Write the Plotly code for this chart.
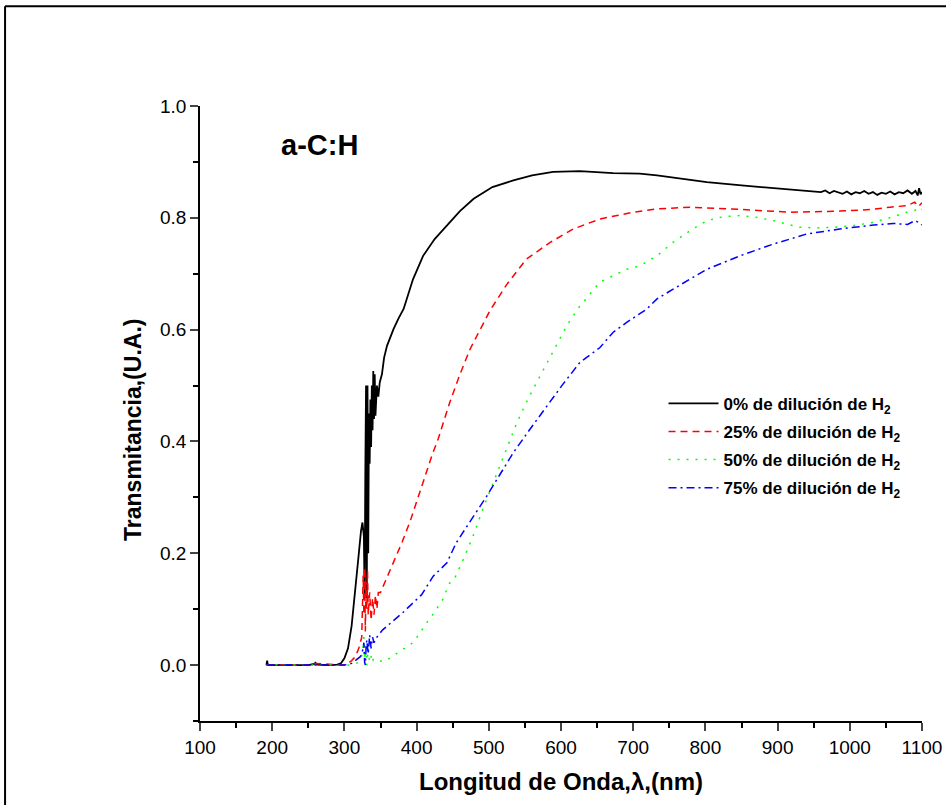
import plotly.graph_objects as go

# ---------------- data ----------------
wl_0 = [192, 193, 194, 200, 230, 250, 258, 260, 262, 280, 290, 295, 300, 305, 310, 315, 320, 323, 325,
        327, 328, 329, 330, 331, 332, 333, 334, 335, 336, 337, 338, 339, 340, 341, 342, 343, 345, 347,
        349, 352, 355, 359, 363, 368, 375, 382, 395, 409, 425, 442, 460, 479, 505, 534, 560, 589, 626,
        672, 709, 733, 770, 802, 850, 894, 920, 950, 960, 966, 972, 978, 984, 990, 996, 1002, 1008, 1014,
        1020, 1026, 1032, 1038, 1044, 1050, 1056, 1062, 1068, 1074, 1080, 1086, 1091, 1094, 1096, 1098, 1100]
T_0 = [0.0, 0.008, 0.0, 0.0, 0.0, 0.0, 0.002, 0.004, 0.001, 0.0, 0.001, 0.003, 0.012, 0.03, 0.07, 0.13,
       0.2, 0.24, 0.255, 0.23, 0.12, 0.35, 0.5, 0.12, 0.5, 0.2, 0.45, 0.36, 0.475, 0.39, 0.5, 0.42, 0.526,
       0.44, 0.52, 0.446, 0.5, 0.48, 0.506, 0.52, 0.55, 0.571, 0.585, 0.601, 0.62, 0.637, 0.69, 0.732,
       0.762, 0.786, 0.812, 0.834, 0.855, 0.867, 0.876, 0.882, 0.8835, 0.88, 0.879, 0.876, 0.869, 0.864,
       0.858, 0.853, 0.850, 0.847, 0.846, 0.849, 0.844, 0.848, 0.845, 0.843, 0.847, 0.842, 0.846, 0.844,
       0.848, 0.843, 0.846, 0.841, 0.845, 0.843, 0.847, 0.842, 0.846, 0.844, 0.849, 0.843, 0.848, 0.840,
       0.853, 0.842, 0.846]

wl_25 = [192, 200, 250, 260, 300, 305, 310, 315, 320, 324, 326, 327, 328, 329, 330, 331, 332, 333, 335,
         337, 339, 341, 343, 345, 347, 350, 360, 370, 380, 391, 400, 409, 421, 430, 446, 460, 474, 488,
         502, 525, 552, 585, 617, 654, 700, 733, 779, 848, 917, 986, 1030, 1056, 1080, 1090, 1095, 1100]
T_25 = [0.0, 0.0, 0.0, 0.003, 0.0, 0.003, 0.008, 0.015, 0.03, 0.05, 0.16, 0.09, 0.175, 0.06, 0.15, 0.1,
        0.17, 0.09, 0.13, 0.08, 0.12, 0.09, 0.125, 0.1, 0.13, 0.13, 0.16, 0.189, 0.22, 0.257, 0.29, 0.327,
        0.374, 0.405, 0.47, 0.52, 0.565, 0.6, 0.635, 0.681, 0.726, 0.756, 0.78, 0.798, 0.81, 0.816, 0.819,
        0.815, 0.81, 0.812, 0.815, 0.819, 0.822, 0.828, 0.82, 0.827]

wl_50 = [192, 200, 250, 300, 310, 320, 325, 327, 328, 330, 331, 333, 335, 338, 340, 345, 353, 360, 374,
         385, 395, 405, 414, 425, 436, 446, 453, 465, 478, 492, 506, 520, 539, 555, 571, 590, 608, 625,
         640, 654, 670, 691, 709, 733, 755, 780, 802, 825, 848, 870, 894, 915, 931, 955, 977, 1005, 1033,
         1055, 1079, 1090, 1097, 1100]
T_50 = [0.0, 0.0, 0.0, 0.0, 0.0, 0.005, 0.02, 0.05, 0.01, 0.04, 0.0, 0.03, 0.005, 0.02, 0.008, 0.01,
        0.006, 0.01, 0.022, 0.03, 0.04, 0.058, 0.076, 0.095, 0.117, 0.147, 0.156, 0.19, 0.23, 0.28, 0.326,
        0.375, 0.434, 0.478, 0.517, 0.565, 0.607, 0.64, 0.664, 0.685, 0.695, 0.708, 0.714, 0.732, 0.756,
        0.778, 0.795, 0.802, 0.804, 0.801, 0.795, 0.788, 0.783, 0.782, 0.783, 0.786, 0.792, 0.8, 0.81,
        0.813, 0.819, 0.815]

wl_75 = [192, 200, 250, 300, 310, 318, 322, 325, 327, 328, 329, 330, 331, 333, 335, 337, 339, 341, 345,
         353, 367, 381, 394, 407, 423, 442, 455, 476, 497, 515, 534, 556, 580, 603, 626, 654, 672, 691,
         719, 733, 756, 802, 848, 894, 940, 986, 1033, 1060, 1080, 1090, 1097, 1100]
T_75 = [0.0, 0.0, 0.0, 0.0, 0.003, 0.01, 0.015, 0.025, 0.04, 0.005, 0.0, 0.03, 0.045, 0.02, 0.054, 0.03,
        0.05, 0.04, 0.05, 0.063, 0.078, 0.094, 0.11, 0.126, 0.159, 0.183, 0.219, 0.26, 0.302, 0.34, 0.38,
        0.42, 0.463, 0.503, 0.541, 0.568, 0.595, 0.613, 0.637, 0.655, 0.673, 0.708, 0.732, 0.753, 0.771,
        0.78, 0.787, 0.79, 0.788, 0.795, 0.791, 0.787]

names = ["0% de dilución de H<sub>2</sub>", "25% de dilución de H<sub>2</sub>",
         "50% de dilución de H<sub>2</sub>", "75% de dilución de H<sub>2</sub>"]
colors = ["#000000", "#ff0000", "#00ff00", "#0000ff"]
dashes = ["solid", "7px,5px", "2px,7px", "8px,4px,2px,4px"]
widths = [1.8, 1.5, 1.5, 1.5]

x_ticks = [100, 200, 300, 400, 500, 600, 700, 800, 900, 1000, 1100]
y_ticks = [0.0, 0.2, 0.4, 0.6, 0.8, 1.0]

FONT = "Arial, 'Liberation Sans', sans-serif"

fig = go.Figure()
for i, (wl, T, nm, c, d, w) in enumerate(zip([wl_0, wl_25, wl_50, wl_75], [T_0, T_25, T_50, T_75],
                                             names, colors, dashes, widths)):
    fig.add_trace(go.Scatter(x=wl, y=T, mode="lines", name=nm, legendgroup=f"g{i}",
                             line=dict(color=c, width=w, dash=d)))

fig.update_layout(
    width=946, height=805,
    margin=dict(l=200, r=24, t=106, b=84, autoexpand=False),
    plot_bgcolor="white", paper_bgcolor="white",
    font=dict(family=FONT, color="black"),
    showlegend=True,
    legend=dict(x=0.642, y=0.545, xanchor="left", yanchor="top", itemwidth=50,
                font=dict(size=17, family=FONT, color="black", weight="bold"),
                bgcolor="rgba(0,0,0,0)", borderwidth=0, tracegroupgap=3),
    xaxis=dict(range=[100, 1100], tickvals=x_ticks, ticks="outside", ticklen=8, tickwidth=1.5,
               automargin=False,
               showline=True, linecolor="black", linewidth=1.5, showgrid=False, zeroline=False,
               tickfont=dict(size=19, family=FONT, color="black"),
               minor=dict(dtick=50, ticks="outside", ticklen=5, tickwidth=1.5, tickcolor="black")),
    yaxis=dict(range=[-0.1, 1.0], tickvals=y_ticks, tickformat=".1f", ticks="outside", ticklen=8,
               automargin=False,
               tickwidth=1.5, showline=True, linecolor="black", linewidth=1.5, showgrid=False,
               zeroline=False, tickfont=dict(size=19, family=FONT, color="black"),
               minor=dict(dtick=0.1, ticks="outside", ticklen=5, tickwidth=1.5, tickcolor="black")),
)

fig.add_annotation(text="<b>a-C:H</b>", xref="paper", yref="paper", x=0.166, y=0.936,
                   xanchor="center", yanchor="middle", showarrow=False,
                   font=dict(size=29, family=FONT, color="black"))
fig.add_annotation(text="<b>Longitud de Onda,λ,(nm)</b>", xref="paper", yref="paper", x=0.5, y=-0.099,
                   xanchor="center", yanchor="middle", showarrow=False,
                   font=dict(size=24, family=FONT, color="black"))
fig.add_annotation(text="<b>Transmitancia,(U.A.)</b>", xref="paper", yref="paper", x=-0.093, y=0.473,
                   xanchor="center", yanchor="middle", textangle=-90, showarrow=False,
                   font=dict(size=23, family=FONT, color="black"))

# outer frame (top and left edges of the framed figure)
fig.add_shape(type="line", xref="paper", yref="paper", x0=-0.27, x1=1.04, y0=1.162, y1=1.162,
              line=dict(color="black", width=2))
fig.add_shape(type="line", xref="paper", yref="paper", x0=-0.27, x1=-0.27, y0=1.162, y1=-0.14,
              line=dict(color="black", width=2))

fig.write_html("out.html", config={"displayModeBar": False},
               post_script="document.body.style.margin='0';document.body.style.overflow='hidden';")
